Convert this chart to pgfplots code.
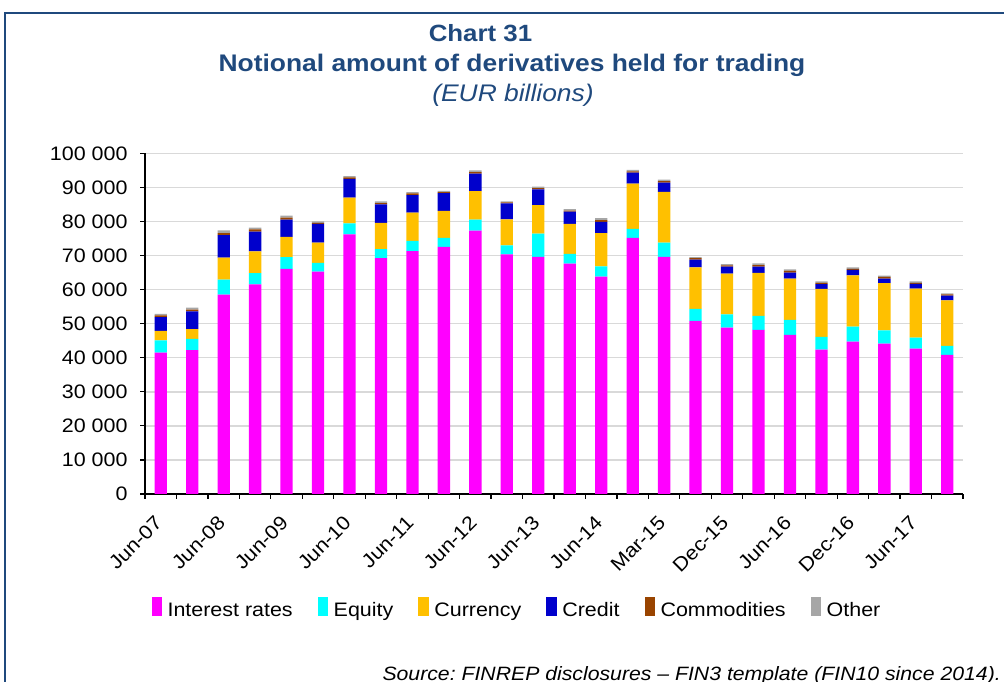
\documentclass[border=0pt]{standalone}
\usepackage{fontspec}
\setmainfont{Liberation Sans}[FakeStretch=1.1]
\usepackage{pgfplots}
\pgfplotsset{compat=1.18}
\usepackage{pgfplotstable}
\definecolor{ttl}{RGB}{31,73,125}
\definecolor{cIR}{RGB}{255,0,255}
\definecolor{cEq}{RGB}{0,255,255}
\definecolor{cCur}{RGB}{255,192,0}
\definecolor{cCr}{RGB}{0,0,204}
\definecolor{cCom}{RGB}{153,68,0}
\definecolor{cOth}{RGB}{166,166,166}
\definecolor{grd}{RGB}{217,217,217}
\pgfplotsset{sqleg/.style={legend image code/.code={\path (0pt,-4.5pt) rectangle (10.5pt,14pt);\fill[##1] (0pt,1pt) rectangle (10.5pt,13.2pt);}}}

\pgfplotstableread{
x ir eq cur cr com oth
0 41500 3600 2800 4000 500 500
1 42200 3300 2900 5200 500 600
2 58500 4400 6500 6600 600 800
3 61500 3300 6400 5800 700 500
4 66100 3400 6000 5000 600 600
5 65300 2500 6000 5500 300 400
6 76200 3200 7600 5500 400 400
7 69200 2700 7700 5400 400 500
8 71300 3000 8300 5100 500 400
9 72500 2700 7900 5200 300 400
10 77300 3200 8400 5100 500 500
11 70300 2700 7600 4700 300 300
12 69600 6800 8400 4600 400 400
13 67600 2900 8800 3600 300 400
14 63800 3000 9800 3300 500 600
15 75200 2600 13300 3200 400 400
16 69600 4200 14900 2700 400 500
17 50800 3500 12200 2300 400 300
18 48800 3900 12000 2000 400 400
19 48200 4100 12600 1800 500 500
20 46700 4400 12100 1800 500 400
21 42400 3700 14100 1400 400 400
22 44700 4400 15100 1600 300 400
23 44100 3900 13900 1300 500 400
24 42700 3200 14400 1400 300 400
25 40800 2700 13300 1400 400 300
}\data

\begin{document}
\begin{tikzpicture}[x=1pt,y=1pt]
\useasboundingbox (0,0) rectangle (1004,682);
\draw[ttl, line width=2.5pt] (5,-20) -- (5,669) -- (1030,669);
\node[anchor=base, text=ttl, font=\fontsize{23.5}{29}\selectfont\bfseries, inner sep=0] at (480.5,640.5) {Chart 31};
\node[anchor=base, text=ttl, font=\fontsize{24}{29}\selectfont\bfseries, inner sep=0] at (512,610.5) {Notional amount of derivatives held for trading};
\node[anchor=base, text=ttl, font=\fontsize{24}{28}\selectfont\itshape, inner sep=0] at (513,580) {(EUR billions)};
\node[anchor=base east, font=\fontsize{19.3}{23}\selectfont\itshape\frenchspacing, inner sep=0] at (1001,1) {Source: FINREP disclosures -- FIN3 template (FIN10 since 2014).};
\begin{axis}[
  at={(145pt,188pt)}, anchor=south west,
  scale only axis, width=818pt, height=340.7pt,
  ybar stacked, bar width=12.3pt,
  xmin=-0.5, xmax=25.5, ymin=0, ymax=100000,
  axis x line*=bottom, axis y line*=left,
  axis line style={black, line width=1.5pt},
  xtick={0,1,...,25},
  xticklabels={Jun-07,,Jun-08,,Jun-09,,Jun-10,,Jun-11,,Jun-12,,Jun-13,,Jun-14,,Mar-15,,Dec-15,,Jun-16,,Dec-16,,Jun-17,},
  minor xtick={-0.5,0.5,...,25.5},
  x tick label style={xshift=-7pt, yshift=-20.5pt, rotate=45, anchor=north east, inner sep=0pt},
  ytick={0,10000,...,100000},
  yticklabels={0,10 000,20 000,30 000,40 000,50 000,60 000,70 000,80 000,90 000,100 000},
  y tick label style={xshift=-14pt},
  minor ytick={0,10000,...,100000},
  scaled y ticks=false,
  tick align=outside, major tick length=0pt, minor tick length=5pt,
  tick style={black, line width=1.2pt},
  ymajorgrids, grid style={grd, line width=1.5pt},
  tick label style={font=\fontsize{19.5}{23}\selectfont},
  legend columns=-1,
  legend style={draw=none, at={(0.4535,-0.3375)}, anchor=center,
    font=\fontsize{19.5}{23}\selectfont,
    nodes={inner sep=0pt, text height=14pt, text depth=4.5pt},
    /tikz/every odd column/.append style={column sep=5.5pt},
    /tikz/every even column/.append style={column sep=25pt}},
]
\addplot[fill=cIR, draw=none, sqleg] table[x=x, y=ir] {\data};
\addlegendentry{Interest rates}
\addplot[fill=cEq, draw=none, sqleg] table[x=x, y=eq] {\data};
\addlegendentry{Equity}
\addplot[fill=cCur, draw=none, sqleg] table[x=x, y=cur] {\data};
\addlegendentry{Currency}
\addplot[fill=cCr, draw=none, sqleg] table[x=x, y=cr] {\data};
\addlegendentry{Credit}
\addplot[fill=cCom, draw=none, sqleg] table[x=x, y=com] {\data};
\addlegendentry{Commodities}
\addplot[fill=cOth, draw=none, sqleg] table[x=x, y=oth] {\data};
\addlegendentry{Other}
\end{axis}
\end{tikzpicture}
\end{document}
